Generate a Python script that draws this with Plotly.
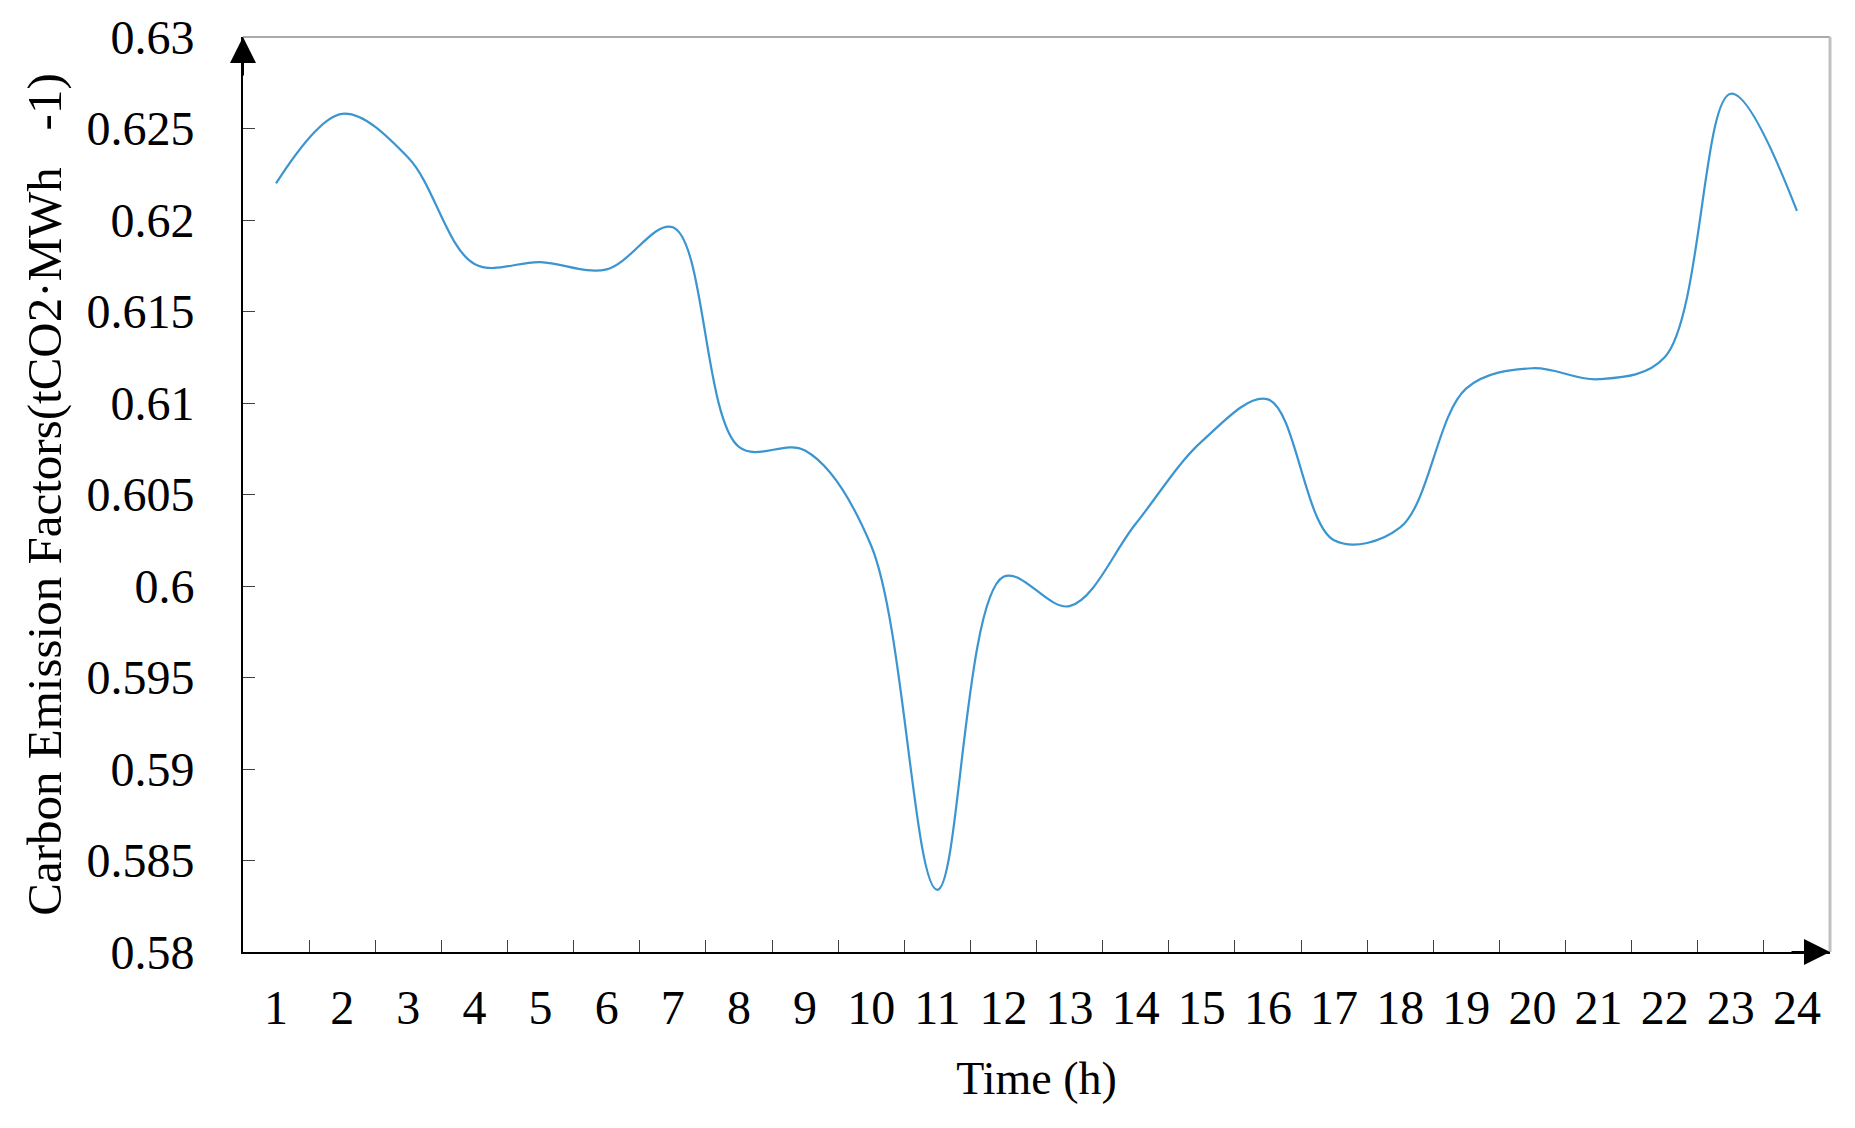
"""
Fator de emissão de carbono ao longo de 24 horas
"""
import plotly.graph_objects as go

# Dados
HOURS = [str(h) for h in range(1, 25)]
CARBON_FACTORS = [
    0.6220, 0.6258, 0.6234, 0.6176, 0.6177, 0.6173, 0.6196, 0.6076,
    0.6074, 0.6022, 0.5834, 0.6005, 0.5989, 0.6034, 0.6079, 0.6102,
    0.6025, 0.6032, 0.6108, 0.6119, 0.6113, 0.6125, 0.6269, 0.6205,
]
Y_TICK_VALUES = [0.58, 0.585, 0.59, 0.595, 0.6, 0.605, 0.61, 0.615, 0.62, 0.625, 0.63]
Y_TICK_LABELS = ['0.58', '0.585', '0.59', '0.595', '0.6', '0.605', '0.61',
                 '0.615', '0.62', '0.625', '0.63']

FONT_FAMILY = 'Liberation Serif, Times New Roman, serif'
LINE_COLOR = '#3b95d0'


def create_emission_chart() -> go.Figure:
    fig = go.Figure()

    fig.add_trace(go.Scatter(
        x=HOURS,
        y=CARBON_FACTORS,
        mode='lines',
        line=dict(color=LINE_COLOR, width=2.2, shape='spline', smoothing=1),
        showlegend=False
    ))

    # moldura cinza (topo e direita)
    fig.add_shape(type='line', xref='paper', yref='paper', x0=0, x1=1, y0=1, y1=1,
                  line=dict(color='#8c8c8c', width=1.5))
    fig.add_shape(type='line', xref='paper', yref='paper', x0=1, x1=1, y0=0, y1=1,
                  line=dict(color='#c0c0c0', width=3))

    # setas dos eixos
    fig.add_annotation(x=0, y=1, xref='paper', yref='paper', ax=0, ay=40,
                       showarrow=True, arrowhead=2, arrowsize=2.6, arrowwidth=2,
                       arrowcolor='black', text='')
    fig.add_annotation(x=1, y=0, xref='paper', yref='paper', ax=-40, ay=0,
                       showarrow=True, arrowhead=2, arrowsize=2.6, arrowwidth=2,
                       arrowcolor='black', text='')

    fig.update_layout(
        width=1855,
        height=1128,
        margin=dict(l=235, r=33, t=29, b=184, autoexpand=False),
        paper_bgcolor='white',
        plot_bgcolor='white',
        font=dict(family=FONT_FAMILY, color='black', size=48),
        xaxis=dict(
            type='category',
            tickson='boundaries',
            range=[-0.5, len(HOURS) - 0.5],
            ticks='inside',
            ticklen=12,
            tickcolor='#404040',
            showline=True,
            linecolor='black',
            linewidth=2,
            showgrid=False,
            zeroline=False,
            ticklabelstandoff=12,
            tickfont=dict(size=48),
            title=dict(text='Time (h)', font=dict(size=46), standoff=29),
        ),
        yaxis=dict(
            range=[0.58, 0.63],
            tickvals=Y_TICK_VALUES,
            ticktext=Y_TICK_LABELS,
            ticks='inside',
            ticklen=12,
            tickcolor='#404040',
            showline=True,
            linecolor='black',
            linewidth=2,
            showgrid=False,
            zeroline=False,
            ticklabelstandoff=37,
            tickfont=dict(size=48),
            title=dict(text='Carbon Emission Factors(tCO2·MWh\u00a0\u00a0 -1)',
                       font=dict(size=49), standoff=9),
        ),
    )

    return fig


fig = create_emission_chart()
fig.write_html("out.html")
